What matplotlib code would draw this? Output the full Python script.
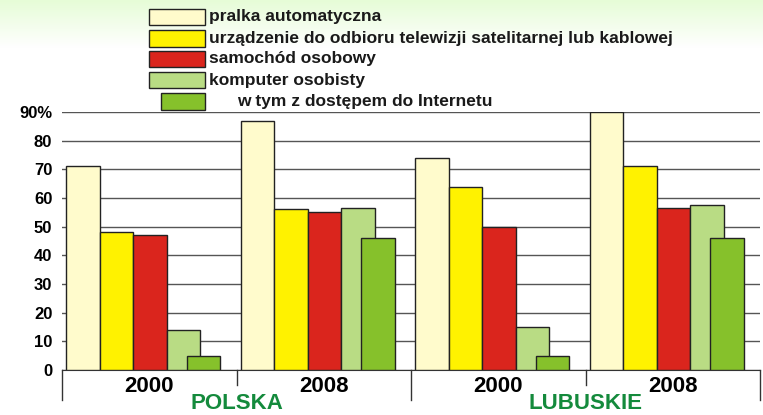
import numpy as np
import matplotlib.pyplot as plt
from matplotlib.patches import Rectangle

# dane
kategorie = ['pralka automatyczna',
             'urządzenie do odbioru telewizji satelitarnej lub kablowej',
             'samochód osobowy',
             'komputer osobisty',
             'w tym z dostępem do Internetu']
kolory = ['#fffbcc', '#fff200', '#da251d', '#b9dc84', '#86c12b']
lata = ['2000', '2008', '2000', '2008']
regiony = ['POLSKA', 'LUBUSKIE']

pralka = [71, 87, 74, 90]
telewizja = [48, 56, 64, 71]
samochod = [47, 55, 50, 56.5]
komputer = [14, 56.5, 15, 57.5]
internet = [5, 46, 5, 46]
serie = [pralka, telewizja, samochod, komputer, internet]

plt.rcParams['font.family'] = ['Liberation Sans', 'DejaVu Sans']

fig = plt.figure(figsize=(7.63, 4.15), dpi=100)

# tło z gradientem u góry
bg = fig.add_axes([0, 0, 1, 1], zorder=-10)
grad = np.ones((415, 1, 3))
top = np.array([0.90, 0.99, 0.84])
n = 48
for i in range(n):
    t = i / n
    grad[i, 0, :] = top * (1 - t) + np.ones(3) * t
bg.imshow(grad, aspect='auto', extent=[0, 1, 0, 1])
bg.axis('off')

ax = fig.add_axes([62 / 763, 1 - 370 / 415, (760 - 62) / 763, (370 - 112) / 415])
ax.set_facecolor('none')

x = np.arange(len(lata))
w = 0.192
off = 0.023
for i, (vals, c) in enumerate(zip(serie, kolory)):
    pos = i if i < 4 else 3.6
    ax.bar(x + off + pos * w, vals, width=w, align='edge', color=c,
           edgecolor='#222222', linewidth=1, zorder=3 + i)

ax.set_xlim(0, 4)
ax.set_ylim(0, 90)
ax.set_yticks(range(0, 91, 10))
ax.set_yticklabels([str(v) for v in range(0, 90, 10)] + ['90%'],
                   fontsize=12, fontweight='bold')
ax.yaxis.grid(True, color='#555555', linewidth=1, zorder=0)
ax.set_axisbelow(True)
ax.tick_params(axis='y', length=0, pad=7)
for s in ['left', 'right', 'top']:
    ax.spines[s].set_visible(False)
ax.spines['bottom'].set_color('#333333')

ax.set_xticks(x + 0.5)
ax.set_xticklabels(lata, fontsize=16, fontweight='bold')
ax.tick_params(axis='x', length=0, pad=4)

# separatory pod osią
tr = ax.get_xaxis_transform()
for k in range(5):
    dl = 0.115 if k % 2 == 0 else 0.06
    ax.plot([k, k], [0, -dl], transform=tr, color='#333333', lw=1,
            clip_on=False)

for j, r in enumerate(regiony):
    ax.text(2 * j + 1, -0.128, r, transform=tr, ha='center', va='center',
            fontsize=16, fontweight='bold', color='#148a3c')

# legenda
W, H = 763, 415
rows_y = [17, 38.5, 59, 80, 101.5]
for i, (lab, c) in enumerate(zip(kategorie, kolory)):
    x0 = 149 if i < 4 else 161
    x1 = 205
    y0 = rows_y[i] - 8
    fig.add_artist(Rectangle((x0 / W, 1 - (y0 + 16.5) / H), (x1 - x0) / W, 16.5 / H,
                             facecolor=c, edgecolor='#222222', lw=1,
                             transform=fig.transFigure))
    tx = 209 if i < 4 else 237
    fig.text(tx / W, 1 - rows_y[i] / H, lab, ha='left', va='center',
             fontsize=12.5, fontweight='bold', color='#1a1a1a')

fig.savefig('out.png', dpi=100)
